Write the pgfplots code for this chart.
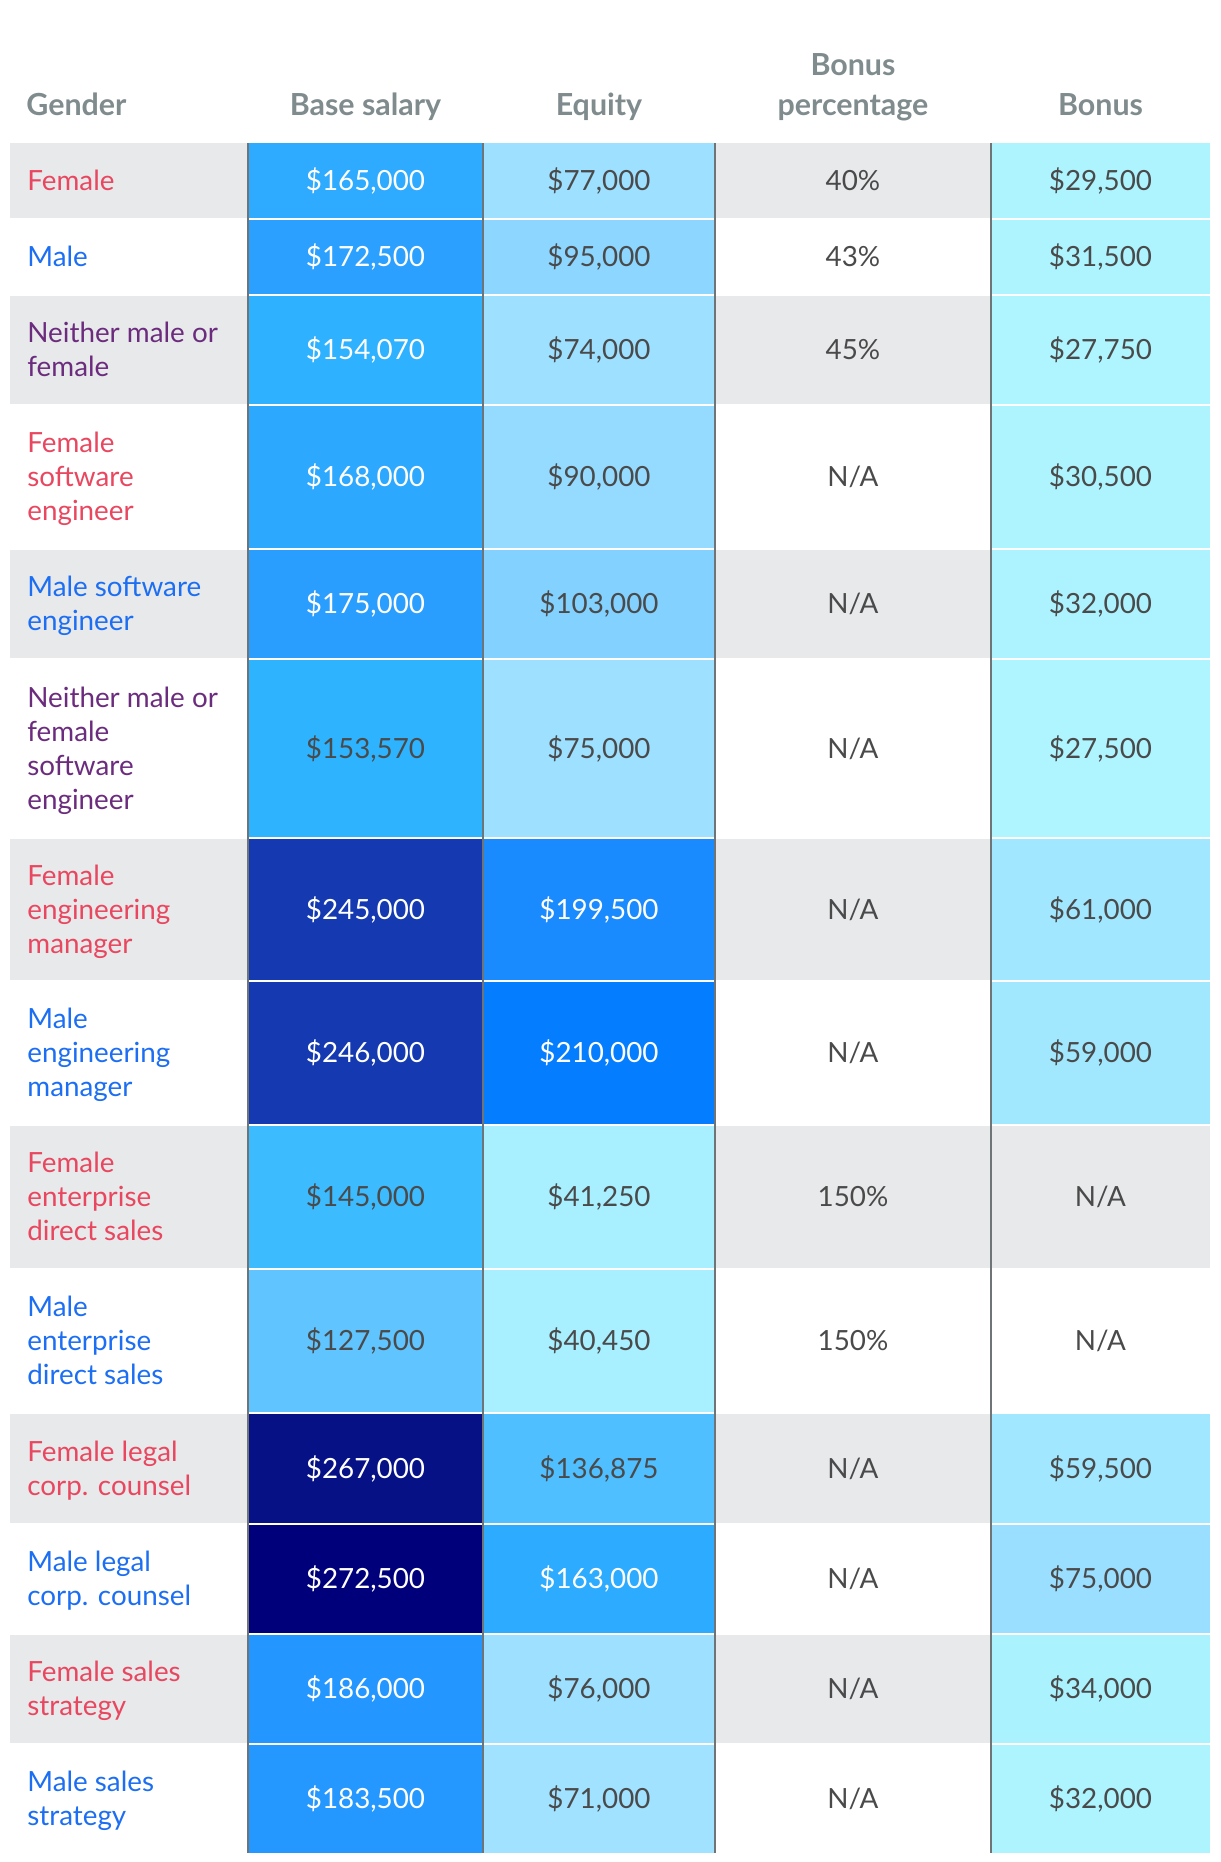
\documentclass[border=0pt]{standalone}
\usepackage{fontspec}
\setmainfont{Lato}
\usepackage{pgfplots}
\pgfplotsset{compat=1.18}

\definecolor{headgray}{HTML}{7F8B8D}
\definecolor{txtdark}{HTML}{4A4A4A}
\definecolor{fem}{HTML}{E8475F}
\definecolor{mal}{HTML}{1C6EF2}
\definecolor{nei}{HTML}{6C2C7E}
\definecolor{rule}{HTML}{6F7476}

\newcommand{\cellfont}{\fontsize{13.9}{17}\selectfont}
\newcommand{\headfont}{\fontsize{15.2}{17}\selectfont\bfseries}

% one filled cell: x0 x1 y0 y1 hex colour (pixel units, y down)
\newcommand{\cellbox}[5]{%
  \definecolor{cx#1y#3}{HTML}{#5}%
  \addplot[fill=cx#1y#3, draw=none, mark=none] coordinates {(#1,#3) (#2,#3) (#2,#4) (#1,#4)};}
% centred value: x baseline colour text
\newcommand{\val}[4]{\node[anchor=base, text=#3, font=\cellfont, inner sep=0pt] at (axis cs:#1,#2) {#4};}
% left label line: baseline colour text
\newcommand{\lab}[3]{\node[anchor=base west, text=#2, font=\cellfont, inner sep=0pt] at (axis cs:27,#1) {#3};}
% row separator at y
\newcommand{\sep}[1]{\addplot[white, line width=1pt, mark=none] coordinates {(10,#1) (1210,#1)};}

\begin{document}
\begin{tikzpicture}
\begin{axis}[
    name=tbl,
    width=610pt, height=931pt, scale only axis,
    xmin=0, xmax=1220, ymin=0, ymax=1862, y dir=reverse,
    hide axis, clip=false,
]
% row backgrounds (gray on odd rows)
\cellbox{10}{1210}{143}{219}{E8E9EB}
\cellbox{10}{1210}{295}{405}{E8E9EB}
\cellbox{10}{1210}{549}{659}{E8E9EB}
\cellbox{10}{1210}{838}{981}{E8E9EB}
\cellbox{10}{1210}{1125}{1269}{E8E9EB}
\cellbox{10}{1210}{1413}{1524}{E8E9EB}
\cellbox{10}{1210}{1634}{1744}{E8E9EB}

% base salary
\cellbox{248}{483}{143}{219}{2EAAFF}
\cellbox{248}{483}{219}{295}{2BA0FF}
\cellbox{248}{483}{295}{405}{2EB2FF}
\cellbox{248}{483}{405}{549}{2DA8FF}
\cellbox{248}{483}{549}{659}{2A9EFF}
\cellbox{248}{483}{659}{838}{2EB4FF}
\cellbox{248}{483}{838}{981}{1439B0}
\cellbox{248}{483}{981}{1125}{1439B0}
\cellbox{248}{483}{1125}{1269}{3DBBFF}
\cellbox{248}{483}{1269}{1413}{60C4FF}
\cellbox{248}{483}{1413}{1524}{071186}
\cellbox{248}{483}{1524}{1634}{00007A}
\cellbox{248}{483}{1634}{1744}{2496FF}
\cellbox{248}{483}{1744}{1853}{2598FF}

% equity
\cellbox{483}{715}{143}{219}{9DE0FF}
\cellbox{483}{715}{219}{295}{8CD6FF}
\cellbox{483}{715}{295}{405}{9DE0FF}
\cellbox{483}{715}{405}{549}{95DBFF}
\cellbox{483}{715}{549}{659}{82D1FF}
\cellbox{483}{715}{659}{838}{9DE0FF}
\cellbox{483}{715}{838}{981}{1A8AFF}
\cellbox{483}{715}{981}{1125}{057DFF}
\cellbox{483}{715}{1125}{1269}{A8F0FF}
\cellbox{483}{715}{1269}{1413}{A8F0FF}
\cellbox{483}{715}{1413}{1524}{50BFFF}
\cellbox{483}{715}{1524}{1634}{2CABFF}
\cellbox{483}{715}{1634}{1744}{9DE0FF}
\cellbox{483}{715}{1744}{1853}{A0E2FF}

% bonus
\cellbox{991}{1210}{143}{219}{AEF4FF}
\cellbox{991}{1210}{219}{295}{ADF4FF}
\cellbox{991}{1210}{295}{405}{AFF5FF}
\cellbox{991}{1210}{405}{549}{AEF4FF}
\cellbox{991}{1210}{549}{659}{ADF3FF}
\cellbox{991}{1210}{659}{838}{AFF5FF}
\cellbox{991}{1210}{838}{981}{A0E7FF}
\cellbox{991}{1210}{981}{1125}{A1E8FF}
\cellbox{991}{1210}{1413}{1524}{A0E7FF}
\cellbox{991}{1210}{1524}{1634}{9ADFFF}
\cellbox{991}{1210}{1634}{1744}{ABF2FF}
\cellbox{991}{1210}{1744}{1853}{ADF4FF}

% row separators
\sep{219}\sep{295}\sep{405}\sep{549}\sep{659}\sep{838}\sep{981}
\sep{1125}\sep{1269}\sep{1413}\sep{1524}\sep{1634}\sep{1744}

% column rules
\addplot[rule, line width=1pt, mark=none] coordinates {(248,143) (248,1853)};
\addplot[rule, line width=1pt, mark=none] coordinates {(483,143) (483,1853)};
\addplot[rule, line width=1pt, mark=none] coordinates {(715,143) (715,1853)};
\addplot[rule, line width=1pt, mark=none] coordinates {(991,143) (991,1853)};

% header
\node[anchor=base west, text=headgray, font=\headfont, inner sep=0pt] at (axis cs:26,115.5) {Gender};
\node[anchor=base, text=headgray, font=\headfont, inner sep=0pt] at (axis cs:365.5,115.5) {Base salary};
\node[anchor=base, text=headgray, font=\headfont, inner sep=0pt] at (axis cs:599,115.5) {Equity};
\node[anchor=base, text=headgray, font=\headfont, inner sep=0pt] at (axis cs:853,75.5) {Bonus};
\node[anchor=base, text=headgray, font=\headfont, inner sep=0pt] at (axis cs:853,115.5) {percentage};
\node[anchor=base, text=headgray, font=\headfont, inner sep=0pt] at (axis cs:1100.5,115.5) {Bonus};

% gender labels
\lab{190.5}{fem}{Female}
\lab{266.5}{mal}{Male}
\lab{342.5}{nei}{Neither male or}
\lab{376.5}{nei}{female}
\lab{452.5}{fem}{Female}
\lab{486.5}{fem}{software}
\lab{520.5}{fem}{engineer}
\lab{596.5}{mal}{Male software}
\lab{630.5}{mal}{engineer}
\lab{707}{nei}{Neither male or}
\lab{741}{nei}{female}
\lab{775}{nei}{software}
\lab{809}{nei}{engineer}
\lab{885}{fem}{Female}
\lab{919}{fem}{engineering}
\lab{953}{fem}{manager}
\lab{1028.5}{mal}{Male}
\lab{1062.5}{mal}{engineering}
\lab{1096.5}{mal}{manager}
\lab{1172.5}{fem}{Female}
\lab{1206.5}{fem}{enterprise}
\lab{1240.5}{fem}{direct sales}
\lab{1316.5}{mal}{Male}
\lab{1350.5}{mal}{enterprise}
\lab{1384.5}{mal}{direct sales}
\lab{1461}{fem}{Female legal}
\lab{1495}{fem}{corp. counsel}
\lab{1571.5}{mal}{Male legal}
\lab{1605.5}{mal}{corp. counsel}
\lab{1681.5}{fem}{Female sales}
\lab{1715.5}{fem}{strategy}
\lab{1791}{mal}{Male sales}
\lab{1825}{mal}{strategy}

% base salary values
\val{365.5}{190.5}{white}{\$165,000}
\val{365.5}{266.5}{white}{\$172,500}
\val{365.5}{359.5}{white}{\$154,070}
\val{365.5}{486.5}{white}{\$168,000}
\val{365.5}{613.5}{white}{\$175,000}
\val{365.5}{758}{txtdark}{\$153,570}
\val{365.5}{919}{white}{\$245,000}
\val{365.5}{1062.5}{white}{\$246,000}
\val{365.5}{1206.5}{txtdark}{\$145,000}
\val{365.5}{1350.5}{txtdark}{\$127,500}
\val{365.5}{1478}{white}{\$267,000}
\val{365.5}{1588.5}{white}{\$272,500}
\val{365.5}{1698.5}{white}{\$186,000}
\val{365.5}{1808}{white}{\$183,500}

% equity values
\val{599}{190.5}{txtdark}{\$77,000}
\val{599}{266.5}{txtdark}{\$95,000}
\val{599}{359.5}{txtdark}{\$74,000}
\val{599}{486.5}{txtdark}{\$90,000}
\val{599}{613.5}{txtdark}{\$103,000}
\val{599}{758}{txtdark}{\$75,000}
\val{599}{919}{white}{\$199,500}
\val{599}{1062.5}{white}{\$210,000}
\val{599}{1206.5}{txtdark}{\$41,250}
\val{599}{1350.5}{txtdark}{\$40,450}
\val{599}{1478}{txtdark}{\$136,875}
\val{599}{1588.5}{white}{\$163,000}
\val{599}{1698.5}{txtdark}{\$76,000}
\val{599}{1808}{txtdark}{\$71,000}

% bonus percentage values
\val{853}{190.5}{txtdark}{40\%}
\val{853}{266.5}{txtdark}{43\%}
\val{853}{359.5}{txtdark}{45\%}
\val{853}{486.5}{txtdark}{N/A}
\val{853}{613.5}{txtdark}{N/A}
\val{853}{758}{txtdark}{N/A}
\val{853}{919}{txtdark}{N/A}
\val{853}{1062.5}{txtdark}{N/A}
\val{853}{1206.5}{txtdark}{150\%}
\val{853}{1350.5}{txtdark}{150\%}
\val{853}{1478}{txtdark}{N/A}
\val{853}{1588.5}{txtdark}{N/A}
\val{853}{1698.5}{txtdark}{N/A}
\val{853}{1808}{txtdark}{N/A}

% bonus values
\val{1100.5}{190.5}{txtdark}{\$29,500}
\val{1100.5}{266.5}{txtdark}{\$31,500}
\val{1100.5}{359.5}{txtdark}{\$27,750}
\val{1100.5}{486.5}{txtdark}{\$30,500}
\val{1100.5}{613.5}{txtdark}{\$32,000}
\val{1100.5}{758}{txtdark}{\$27,500}
\val{1100.5}{919}{txtdark}{\$61,000}
\val{1100.5}{1062.5}{txtdark}{\$59,000}
\val{1100.5}{1206.5}{txtdark}{N/A}
\val{1100.5}{1350.5}{txtdark}{N/A}
\val{1100.5}{1478}{txtdark}{\$59,500}
\val{1100.5}{1588.5}{txtdark}{\$75,000}
\val{1100.5}{1698.5}{txtdark}{\$34,000}
\val{1100.5}{1808}{txtdark}{\$32,000}
\end{axis}
\pgfresetboundingbox
\path[use as bounding box] (tbl.south west) rectangle (tbl.north east);
\end{tikzpicture}
\end{document}
